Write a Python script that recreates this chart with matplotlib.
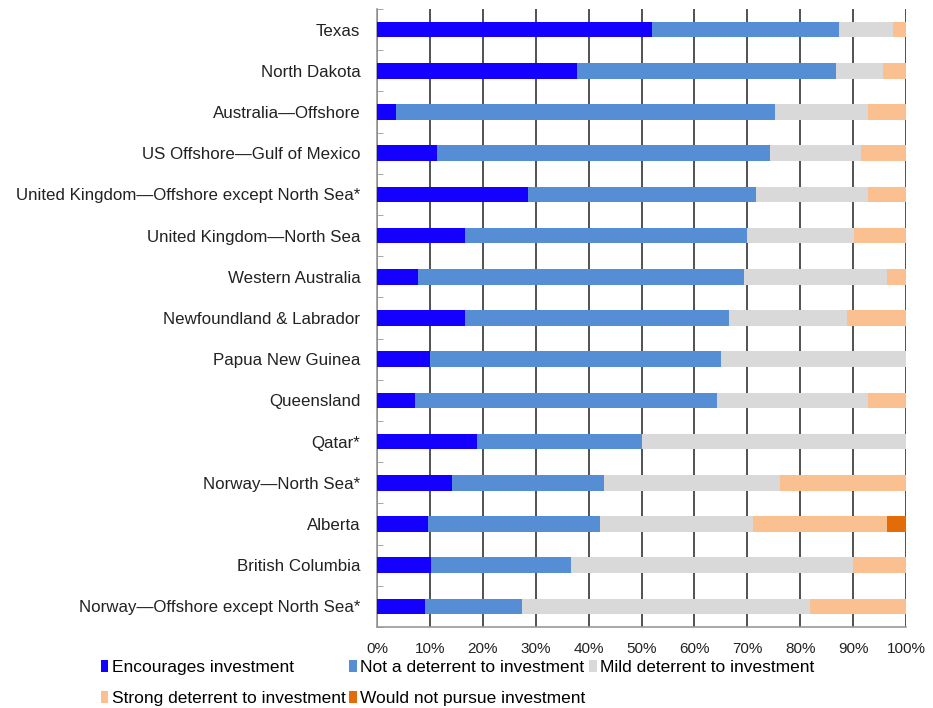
import numpy as np
import matplotlib
matplotlib.use('Agg')
from matplotlib import pyplot as plt
from matplotlib.ticker import FixedLocator, PercentFormatter

plt.rcParams['font.family'] = ['Liberation Sans', 'DejaVu Sans']

regions = ['Texas', 'North Dakota', 'Australia\u2014Offshore', 'US Offshore\u2014Gulf of Mexico',
           'United Kingdom\u2014Offshore except North Sea*', 'United Kingdom\u2014North Sea',
           'Western Australia', 'Newfoundland & Labrador', 'Papua New Guinea', 'Queensland',
           'Qatar*', 'Norway\u2014North Sea*', 'Alberta', 'British Columbia',
           'Norway\u2014Offshore except North Sea*']

encourages = [51.9, 37.8, 3.5, 11.4, 28.6, 16.7, 7.7, 16.7, 10.0, 7.2, 18.9, 14.2, 9.6, 10.2, 9.1]
not_deterrent = [35.5, 49.0, 71.7, 62.9, 43.0, 53.2, 61.6, 49.9, 55.1, 57.0, 31.1, 28.8, 32.5, 26.4, 18.3]
mild = [10.1, 8.9, 17.7, 17.1, 21.3, 20.2, 27.1, 22.3, 34.9, 28.7, 50.0, 33.1, 29.0, 53.3, 54.5]
strong = [2.5, 4.3, 7.1, 8.6, 7.1, 9.9, 3.6, 11.1, 0.0, 7.1, 0.0, 23.9, 25.3, 10.1, 18.1]
would_not = [0, 0, 0, 0, 0, 0, 0, 0, 0, 0, 0, 0, 3.6, 0, 0]

series = [
    ('Encourages investment', encourages, '#1400FF'),
    ('Not a deterrent to investment', not_deterrent, '#558ED5'),
    ('Mild deterrent to investment', mild, '#D9D9D9'),
    ('Strong deterrent to investment', strong, '#FAC090'),
    ('Would not pursue investment', would_not, '#E36C09'),
]

fig = plt.figure(figsize=(9.33, 7.08), dpi=100)
ax = fig.add_axes([377 / 933, 1 - 627 / 708, 529 / 933, 618 / 708])

y = np.arange(len(regions))
left = np.zeros(len(regions))
handles = []
for name, vals, col in series:
    vals = np.array(vals)
    h = ax.barh(y, vals, left=left, height=0.38, color=col, label=name, zorder=3)
    handles.append(h)
    left += vals

ax.set_xlim(0, 100)
ax.set_ylim(len(regions) - 0.5, -0.5)
ax.set_xticks(np.arange(0, 101, 10))
ax.xaxis.set_major_formatter(PercentFormatter(decimals=0))
ax.tick_params(axis='x', length=0, pad=11, labelsize=11, colors='#222222')
ax.grid(axis='x', color='#333333', linewidth=1.2, zorder=0)
ax.set_axisbelow(True)

ax.set_yticks(y)
ax.set_yticklabels(regions, fontsize=12.2, color='#222222')
ax.tick_params(axis='y', length=0, pad=12)
ax.yaxis.set_minor_locator(FixedLocator(np.arange(-0.5, len(regions), 1)))
ax.tick_params(axis='y', which='minor', direction='in', length=4, color='#999999')

for s in ['top', 'right']:
    ax.spines[s].set_visible(False)
for s in ['left', 'bottom']:
    ax.spines[s].set_color('#999999')
    ax.spines[s].set_linewidth(1.2)

# legend reads row by row: reorder for matplotlib's column filling
order = [0, 3, 1, 4, 2]
fig.legend([handles[i] for i in order], [series[i][0] for i in order],
           loc='upper left', bbox_to_anchor=(92 / 933, 1 - 651 / 708), ncol=3,
           frameon=False, fontsize=12.5, handlelength=0.45, handleheight=0.7,
           handletextpad=0.2, columnspacing=0.2, labelspacing=0.95, borderpad=0)

fig.savefig('out.png', dpi=100)
